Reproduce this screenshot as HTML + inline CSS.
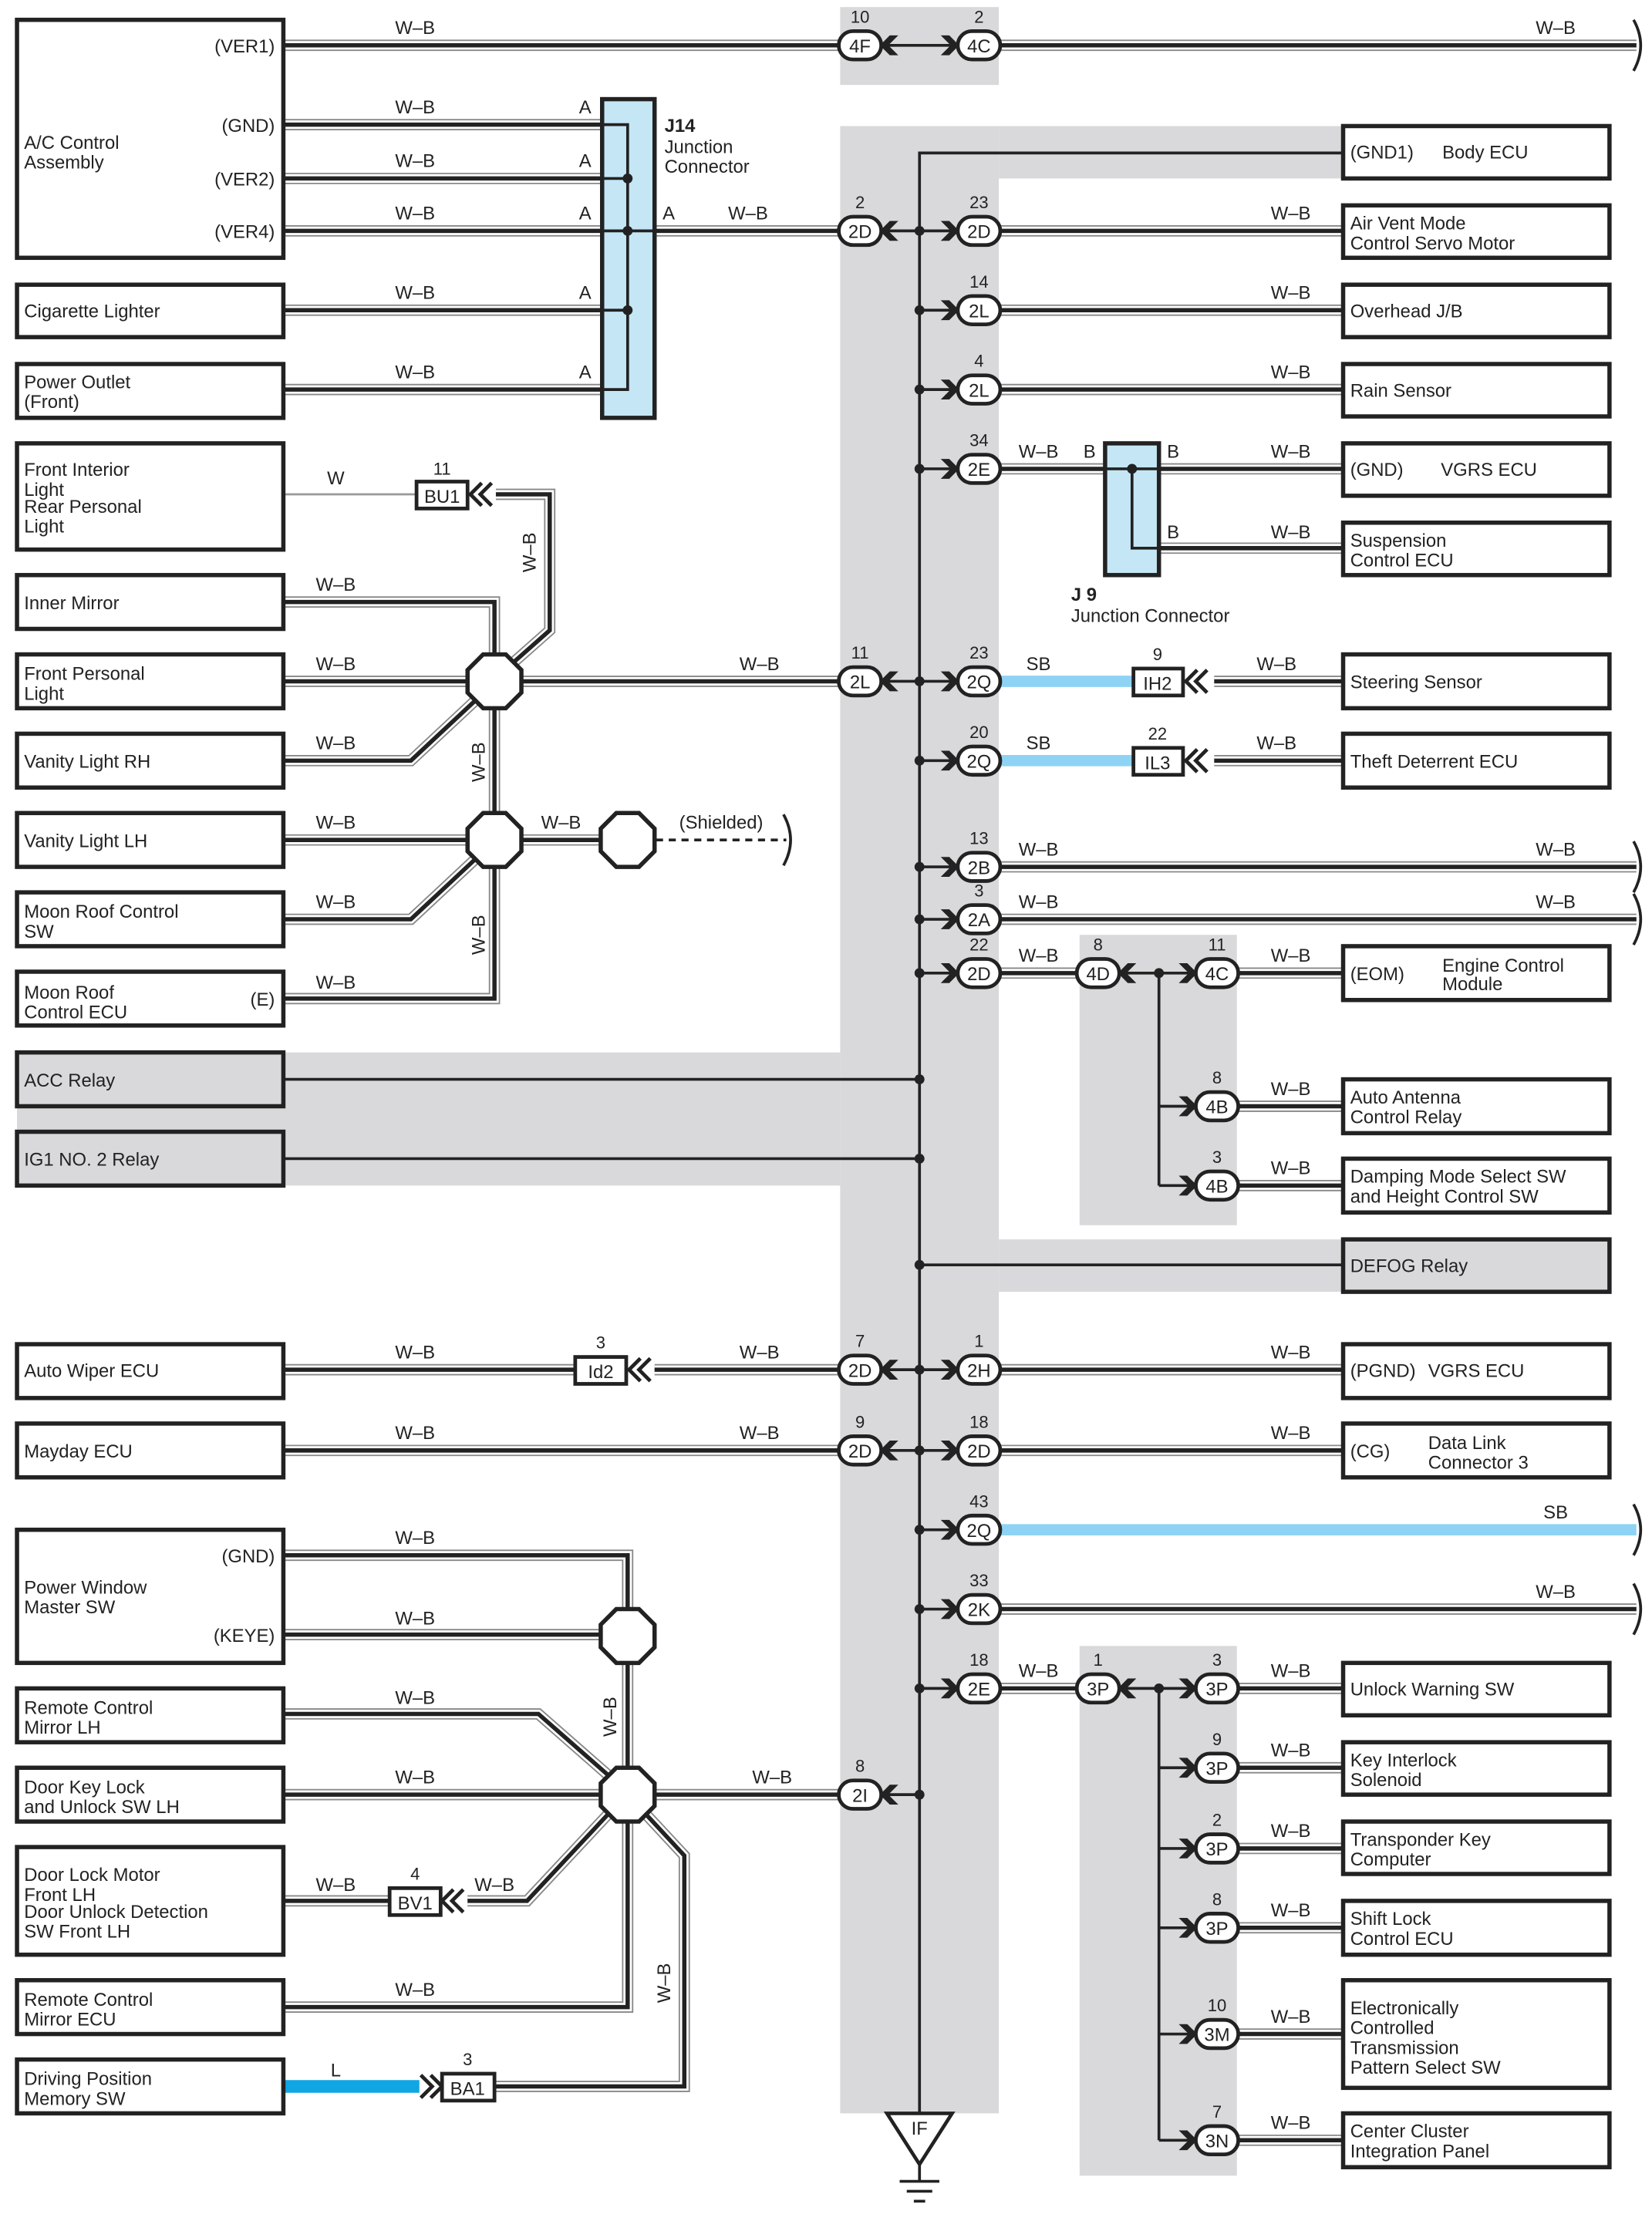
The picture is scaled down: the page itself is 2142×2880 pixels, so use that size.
<!DOCTYPE html>
<html><head><meta charset="utf-8"><style>
html,body{margin:0;padding:0;background:#fff}
svg{display:block}
text{font-family:"Liberation Sans Narrow","Liberation Sans",sans-serif;font-size:13px;fill:#222}
.n{font-size:12px;text-anchor:middle}
.m{text-anchor:middle}
.e{text-anchor:end}
.bx{fill:#fff;stroke:#222;stroke-width:3}
.gb{fill:#d9d9db;stroke:#222;stroke-width:3}
.pl{fill:#fff;stroke:#222;stroke-width:2.6}
.t{stroke:#222;stroke-width:2;fill:none}
</style></head><body>
<svg width="2142" height="2880" viewBox="0 0 1166 1568" preserveAspectRatio="none" xmlns="http://www.w3.org/2000/svg">
<g fill="#d9d9db">
<rect x="593" y="5" width="112" height="55"/>
<rect x="593" y="89" width="112" height="1403"/>
<rect x="705" y="89" width="243" height="37"/>
<rect x="12" y="743" width="581" height="94"/>
<rect x="705" y="875" width="243" height="37"/>
<rect x="762" y="660" width="111" height="205"/>
<rect x="762" y="1162" width="111" height="374"/>
</g>
<defs>
<g id="w" fill="none">
<path d="M200 32H592M705 32H1155"/>
<path d="M200 88H425M200 126H425M200 163H425M200 219H425M200 275H425M462 163H592"/>
<path d="M705 163H948M705 219H948M705 275H948M705 331H780M818 331H948M818 387H948"/>
<path d="M857 481H948M857 537H948M705 612H1155M705 649H1155M705 687H760M873 687H948M873 781H948M873 837H948"/>
<path d="M200 967H406M462 967H592M705 967H948M200 1024H592M705 1024H948M705 1136H1155"/>
<path d="M705 1192H760M873 1192H948M873 1248H948M873 1305H948M873 1361H948M873 1436H948M873 1511H948"/>
<path d="M350 349H388V445L362 468M200 425H349V461M200 481H329M369 481H592M200 537H290L335 495M349 501V573M200 593H329M369 593H423M200 649H290L335 607M200 705H349V613"/>
<path d="M200 1098H443V1135M200 1154H423M443 1175V1247M200 1210H380L429 1253M200 1267H423M463 1267H592M200 1342H274M330 1342H372L429 1281M200 1417H443V1287M350 1473H483V1310L457 1282"/>
</g>
</defs>
<use href="#w" stroke="#888" stroke-width="8"/>
<use href="#w" stroke="#fff" stroke-width="6"/>
<use href="#w" stroke="#222" stroke-width="3"/>
<path d="M705 481H800M705 537H800M705 1080H1155" stroke="#8fd3f4" stroke-width="8"/>
<path d="M200 1473H296" stroke="#10a6e3" stroke-width="9"/>
<path d="M200 349H294" stroke="#999" stroke-width="1.5"/>
<path d="M463 593H555" stroke="#222" stroke-width="2" stroke-dasharray="5,4"/>
<rect x="425" y="70" width="37" height="225" fill="#c5e6f5" stroke="#222" stroke-width="3"/>
<rect x="780" y="313" width="38" height="93" fill="#c5e6f5" stroke="#222" stroke-width="3"/>
<path class="t" d="M425 88H443V275H425M425 126H443M425 163H462M425 219H443"/>
<g fill="#222"><circle cx="443" cy="126" r="3.5"/><circle cx="443" cy="163" r="3.5"/><circle cx="443" cy="219" r="3.5"/><circle cx="799" cy="331" r="3.5"/></g>
<path class="t" d="M780 331H818M799 331V387H818"/>
<path class="t" d="M948 108H649V1492M649 893H948M200 762H649M200 818H649"/>
<path class="t" d="M621 32H677M621 163H677M649 219H677M649 275H677M649 331H677M621 481H677M649 537H677M649 612H677M649 649H677M649 687H677M621 967H677M621 1024H677M649 1080H677M649 1136H677M649 1192H677M621 1267H649"/>
<path class="t" d="M789 687H845M818 687V837M818 781H845M818 837H845M789 1192H845M818 1192V1511M818 1248H845M818 1305H845M818 1361H845M818 1436H845M818 1511H845"/>
<g fill="#222">
<circle cx="649" cy="163" r="3.5"/><circle cx="649" cy="219" r="3.5"/><circle cx="649" cy="275" r="3.5"/><circle cx="649" cy="331" r="3.5"/><circle cx="649" cy="481" r="3.5"/><circle cx="649" cy="537" r="3.5"/><circle cx="649" cy="612" r="3.5"/><circle cx="649" cy="649" r="3.5"/><circle cx="649" cy="687" r="3.5"/><circle cx="649" cy="762" r="3.5"/><circle cx="649" cy="818" r="3.5"/><circle cx="649" cy="893" r="3.5"/><circle cx="649" cy="967" r="3.5"/><circle cx="649" cy="1024" r="3.5"/><circle cx="649" cy="1080" r="3.5"/><circle cx="649" cy="1136" r="3.5"/><circle cx="649" cy="1192" r="3.5"/><circle cx="649" cy="1267" r="3.5"/>
<circle cx="818" cy="687" r="3.5"/><circle cx="818" cy="1192" r="3.5"/>
</g>
<defs>
<path id="cr" d="M-13 -7H-7L0 0L-7 7H-13L-6 0Z" fill="#222"/>
<path id="cl" d="M13 -7H7L0 0L7 7H13L6 0Z" fill="#222"/>
<path id="dl" d="M6 -8L-2 0L6 8M13 -8L5 0L13 8" fill="none" stroke="#222" stroke-width="2.6"/>
<path id="dr" d="M-6 -8L2 0L-6 8M-13 -8L-5 0L-13 8" fill="none" stroke="#222" stroke-width="2.6"/>
</defs>
<g>
<use href="#cl" x="621" y="32"/><use href="#cr" x="677" y="32"/>
<use href="#cl" x="621" y="163"/><use href="#cr" x="677" y="163"/>
<use href="#cr" x="677" y="219"/><use href="#cr" x="677" y="275"/><use href="#cr" x="677" y="331"/>
<use href="#cl" x="621" y="481"/><use href="#cr" x="677" y="481"/><use href="#cr" x="677" y="537"/>
<use href="#cr" x="677" y="612"/><use href="#cr" x="677" y="649"/><use href="#cr" x="677" y="687"/>
<use href="#cl" x="789" y="687"/><use href="#cr" x="845" y="687"/><use href="#cr" x="845" y="781"/><use href="#cr" x="845" y="837"/>
<use href="#cl" x="621" y="967"/><use href="#cr" x="677" y="967"/><use href="#cl" x="621" y="1024"/><use href="#cr" x="677" y="1024"/>
<use href="#cr" x="677" y="1080"/><use href="#cr" x="677" y="1136"/><use href="#cr" x="677" y="1192"/>
<use href="#cl" x="789" y="1192"/><use href="#cr" x="845" y="1192"/><use href="#cr" x="845" y="1248"/><use href="#cr" x="845" y="1305"/><use href="#cr" x="845" y="1361"/><use href="#cr" x="845" y="1436"/><use href="#cr" x="845" y="1511"/>
<use href="#cl" x="621" y="1267"/>
<use href="#dl" x="334" y="349"/><use href="#dl" x="839" y="481"/><use href="#dl" x="839" y="537"/><use href="#dl" x="446" y="967"/><use href="#dl" x="314" y="1342"/><use href="#dr" x="310" y="1473"/>
</g>
<g class="pl">
<rect x="294" y="340" width="36" height="19"/><rect x="800" y="472" width="35" height="19"/><rect x="800" y="528" width="35" height="19"/>
<rect x="406" y="958" width="36" height="19"/><rect x="275" y="1333" width="36" height="19"/><rect x="312" y="1464" width="37" height="19"/>
</g>
<g><text x="312" y="355" class="m">BU1</text><text x="817" y="487" class="m">IH2</text><text x="817" y="543" class="m">IL3</text><text x="424" y="973" class="m">Id2</text><text x="293" y="1348" class="m">BV1</text><text x="330" y="1479" class="m">BA1</text></g>
<g><text x="312" y="335" class="n">11</text><text x="817" y="466" class="n">9</text><text x="817" y="522" class="n">22</text><text x="424" y="952" class="n">3</text><text x="293" y="1327" class="n">4</text><text x="330" y="1458" class="n">3</text></g>
<g fill="#fff" stroke="#222" stroke-width="3">
<polygon points="341,462 357,462 368,473 368,489 357,500 341,500 330,489 330,473"/>
<polygon points="341,574 357,574 368,585 368,601 357,612 341,612 330,601 330,585"/>
<polygon points="435,574 451,574 462,585 462,601 451,612 435,612 424,601 424,585"/>
<polygon points="435,1136 451,1136 462,1147 462,1163 451,1174 435,1174 424,1163 424,1147"/>
<polygon points="435,1248 451,1248 462,1259 462,1275 451,1286 435,1286 424,1275 424,1259"/>
</g>
<g>
<rect class="pl" x="592" y="22" width="30" height="20" rx="10"/><text class="m" x="607" y="37">4F</text><text class="n" x="607" y="16">10</text>
<rect class="pl" x="676" y="22" width="30" height="20" rx="10"/><text class="m" x="691" y="37">4C</text><text class="n" x="691" y="16">2</text>
<rect class="pl" x="592" y="153" width="30" height="20" rx="10"/><text class="m" x="607" y="168">2D</text><text class="n" x="607" y="147">2</text>
<rect class="pl" x="676" y="153" width="30" height="20" rx="10"/><text class="m" x="691" y="168">2D</text><text class="n" x="691" y="147">23</text>
<rect class="pl" x="676" y="209" width="30" height="20" rx="10"/><text class="m" x="691" y="224">2L</text><text class="n" x="691" y="203">14</text>
<rect class="pl" x="676" y="265" width="30" height="20" rx="10"/><text class="m" x="691" y="280">2L</text><text class="n" x="691" y="259">4</text>
<rect class="pl" x="676" y="321" width="30" height="20" rx="10"/><text class="m" x="691" y="336">2E</text><text class="n" x="691" y="315">34</text>
<rect class="pl" x="592" y="471" width="30" height="20" rx="10"/><text class="m" x="607" y="486">2L</text><text class="n" x="607" y="465">11</text>
<rect class="pl" x="676" y="471" width="30" height="20" rx="10"/><text class="m" x="691" y="486">2Q</text><text class="n" x="691" y="465">23</text>
<rect class="pl" x="676" y="527" width="30" height="20" rx="10"/><text class="m" x="691" y="542">2Q</text><text class="n" x="691" y="521">20</text>
<rect class="pl" x="676" y="602" width="30" height="20" rx="10"/><text class="m" x="691" y="617">2B</text><text class="n" x="691" y="596">13</text>
<rect class="pl" x="676" y="639" width="30" height="20" rx="10"/><text class="m" x="691" y="654">2A</text><text class="n" x="691" y="633">3</text>
<rect class="pl" x="676" y="677" width="30" height="20" rx="10"/><text class="m" x="691" y="692">2D</text><text class="n" x="691" y="671">22</text>
<rect class="pl" x="760" y="677" width="30" height="20" rx="10"/><text class="m" x="775" y="692">4D</text><text class="n" x="775" y="671">8</text>
<rect class="pl" x="844" y="677" width="30" height="20" rx="10"/><text class="m" x="859" y="692">4C</text><text class="n" x="859" y="671">11</text>
<rect class="pl" x="844" y="771" width="30" height="20" rx="10"/><text class="m" x="859" y="786">4B</text><text class="n" x="859" y="765">8</text>
<rect class="pl" x="844" y="827" width="30" height="20" rx="10"/><text class="m" x="859" y="842">4B</text><text class="n" x="859" y="821">3</text>
<rect class="pl" x="592" y="957" width="30" height="20" rx="10"/><text class="m" x="607" y="972">2D</text><text class="n" x="607" y="951">7</text>
<rect class="pl" x="676" y="957" width="30" height="20" rx="10"/><text class="m" x="691" y="972">2H</text><text class="n" x="691" y="951">1</text>
<rect class="pl" x="592" y="1014" width="30" height="20" rx="10"/><text class="m" x="607" y="1029">2D</text><text class="n" x="607" y="1008">9</text>
<rect class="pl" x="676" y="1014" width="30" height="20" rx="10"/><text class="m" x="691" y="1029">2D</text><text class="n" x="691" y="1008">18</text>
<rect class="pl" x="676" y="1070" width="30" height="20" rx="10"/><text class="m" x="691" y="1085">2Q</text><text class="n" x="691" y="1064">43</text>
<rect class="pl" x="676" y="1126" width="30" height="20" rx="10"/><text class="m" x="691" y="1141">2K</text><text class="n" x="691" y="1120">33</text>
<rect class="pl" x="676" y="1182" width="30" height="20" rx="10"/><text class="m" x="691" y="1197">2E</text><text class="n" x="691" y="1176">18</text>
<rect class="pl" x="760" y="1182" width="30" height="20" rx="10"/><text class="m" x="775" y="1197">3P</text><text class="n" x="775" y="1176">1</text>
<rect class="pl" x="844" y="1182" width="30" height="20" rx="10"/><text class="m" x="859" y="1197">3P</text><text class="n" x="859" y="1176">3</text>
<rect class="pl" x="844" y="1238" width="30" height="20" rx="10"/><text class="m" x="859" y="1253">3P</text><text class="n" x="859" y="1232">9</text>
<rect class="pl" x="844" y="1295" width="30" height="20" rx="10"/><text class="m" x="859" y="1310">3P</text><text class="n" x="859" y="1289">2</text>
<rect class="pl" x="844" y="1351" width="30" height="20" rx="10"/><text class="m" x="859" y="1366">3P</text><text class="n" x="859" y="1345">8</text>
<rect class="pl" x="844" y="1426" width="30" height="20" rx="10"/><text class="m" x="859" y="1441">3M</text><text class="n" x="859" y="1420">10</text>
<rect class="pl" x="844" y="1501" width="30" height="20" rx="10"/><text class="m" x="859" y="1516">3N</text><text class="n" x="859" y="1495">7</text>
<rect class="pl" x="592" y="1257" width="30" height="20" rx="10"/><text class="m" x="607" y="1272">2I</text><text class="n" x="607" y="1251">8</text>
</g>
<path class="t" d="M1153 14Q1163 32 1153 50M1153 594Q1163 612 1153 630M1153 631Q1163 649 1153 667M1153 1062Q1163 1080 1153 1098M1153 1118Q1163 1136 1153 1154M553 575Q563 593 553 611"/>
<polygon points="626,1492 672,1492 649,1528" fill="#fff" stroke="#222" stroke-width="2.5"/>
<text class="m" x="649" y="1507">IF</text>
<path class="t" d="M649 1528V1540M635 1540H663M640 1547H658M645 1554H653"/>
<rect class="bx" x="12" y="14" width="188" height="168"/>
<rect class="bx" x="12" y="201" width="188" height="37"/>
<rect class="bx" x="12" y="257" width="188" height="38"/>
<rect class="bx" x="12" y="313" width="188" height="75"/>
<rect class="bx" x="12" y="406" width="188" height="38"/>
<rect class="bx" x="12" y="462" width="188" height="38"/>
<rect class="bx" x="12" y="518" width="188" height="38"/>
<rect class="bx" x="12" y="574" width="188" height="38"/>
<rect class="bx" x="12" y="630" width="188" height="38"/>
<rect class="bx" x="12" y="686" width="188" height="38"/>
<rect class="gb" x="12" y="743" width="188" height="38"/>
<rect class="gb" x="12" y="799" width="188" height="38"/>
<rect class="bx" x="12" y="949" width="188" height="38"/>
<rect class="bx" x="12" y="1005" width="188" height="38"/>
<rect class="bx" x="12" y="1080" width="188" height="94"/>
<rect class="bx" x="12" y="1192" width="188" height="38"/>
<rect class="bx" x="12" y="1248" width="188" height="38"/>
<rect class="bx" x="12" y="1304" width="188" height="76"/>
<rect class="bx" x="12" y="1398" width="188" height="38"/>
<rect class="bx" x="12" y="1454" width="188" height="38"/>
<rect class="bx" x="948" y="89" width="188" height="37"/>
<rect class="bx" x="948" y="145" width="188" height="37"/>
<rect class="bx" x="948" y="201" width="188" height="37"/>
<rect class="bx" x="948" y="257" width="188" height="37"/>
<rect class="bx" x="948" y="313" width="188" height="37"/>
<rect class="bx" x="948" y="369" width="188" height="37"/>
<rect class="bx" x="948" y="462" width="188" height="38"/>
<rect class="bx" x="948" y="518" width="188" height="38"/>
<rect class="bx" x="948" y="668" width="188" height="38"/>
<rect class="bx" x="948" y="762" width="188" height="38"/>
<rect class="bx" x="948" y="818" width="188" height="38"/>
<rect class="gb" x="948" y="875" width="188" height="37"/>
<rect class="bx" x="948" y="949" width="188" height="38"/>
<rect class="bx" x="948" y="1005" width="188" height="38"/>
<rect class="bx" x="948" y="1174" width="188" height="37"/>
<rect class="bx" x="948" y="1230" width="188" height="37"/>
<rect class="bx" x="948" y="1286" width="188" height="37"/>
<rect class="bx" x="948" y="1342" width="188" height="38"/>
<rect class="bx" x="948" y="1398" width="188" height="76"/>
<rect class="bx" x="948" y="1492" width="188" height="38"/>
<text class="e" x="194" y="37">(VER1)</text><text class="e" x="194" y="93">(GND)</text><text class="e" x="194" y="131">(VER2)</text><text class="e" x="194" y="168">(VER4)</text>
<text x="17" y="105">A/C Control</text><text x="17" y="119">Assembly</text>
<text x="17" y="224">Cigarette Lighter</text>
<text x="17" y="274">Power Outlet</text><text x="17" y="288">(Front)</text>
<text x="17" y="336">Front Interior</text><text x="17" y="350">Light</text><text x="17" y="362">Rear Personal</text><text x="17" y="376">Light</text>
<text x="17" y="430">Inner Mirror</text>
<text x="17" y="480">Front Personal</text><text x="17" y="494">Light</text>
<text x="17" y="542">Vanity Light RH</text>
<text x="17" y="598">Vanity Light LH</text>
<text x="17" y="648">Moon Roof Control</text><text x="17" y="662">SW</text>
<text x="17" y="705">Moon Roof</text><text x="17" y="719">Control ECU</text><text class="e" x="194" y="710">(E)</text>
<text x="17" y="767">ACC Relay</text>
<text x="17" y="823">IG1 NO. 2 Relay</text>
<text x="17" y="972">Auto Wiper ECU</text>
<text x="17" y="1029">Mayday ECU</text>
<text class="e" x="194" y="1103">(GND)</text><text class="e" x="194" y="1159">(KEYE)</text>
<text x="17" y="1125">Power Window</text><text x="17" y="1139">Master SW</text>
<text x="17" y="1210">Remote Control</text><text x="17" y="1224">Mirror LH</text>
<text x="17" y="1266">Door Key Lock</text><text x="17" y="1280">and Unlock SW LH</text>
<text x="17" y="1328">Door Lock Motor</text><text x="17" y="1342">Front LH</text><text x="17" y="1354">Door Unlock Detection</text><text x="17" y="1368">SW Front LH</text>
<text x="17" y="1416">Remote Control</text><text x="17" y="1430">Mirror ECU</text>
<text x="17" y="1472">Driving Position</text><text x="17" y="1486">Memory SW</text>
<text x="953" y="112">(GND1)</text><text x="1018" y="112">Body ECU</text>
<text x="953" y="162">Air Vent Mode</text><text x="953" y="176">Control Servo Motor</text>
<text x="953" y="224">Overhead J/B</text>
<text x="953" y="280">Rain Sensor</text>
<text x="953" y="336">(GND)</text><text x="1017" y="336">VGRS ECU</text>
<text x="953" y="386">Suspension</text><text x="953" y="400">Control ECU</text>
<text x="953" y="486">Steering Sensor</text>
<text x="953" y="542">Theft Deterrent ECU</text>
<text x="953" y="692">(EOM)</text><text x="1018" y="686">Engine Control</text><text x="1018" y="699">Module</text>
<text x="953" y="779">Auto Antenna</text><text x="953" y="793">Control Relay</text>
<text x="953" y="835">Damping Mode Select SW</text><text x="953" y="849">and Height Control SW</text>
<text x="953" y="898">DEFOG Relay</text>
<text x="953" y="972">(PGND)</text><text x="1008" y="972">VGRS ECU</text>
<text x="953" y="1029">(CG)</text><text x="1008" y="1023">Data Link</text><text x="1008" y="1037">Connector 3</text>
<text x="953" y="1197">Unlock Warning SW</text>
<text x="953" y="1247">Key Interlock</text><text x="953" y="1261">Solenoid</text>
<text x="953" y="1303">Transponder Key</text><text x="953" y="1317">Computer</text>
<text x="953" y="1359">Shift Lock</text><text x="953" y="1373">Control ECU</text>
<text x="953" y="1422">Electronically</text><text x="953" y="1436">Controlled</text><text x="953" y="1450">Transmission</text><text x="953" y="1464">Pattern Select SW</text>
<text x="953" y="1509">Center Cluster</text><text x="953" y="1523">Integration Panel</text>
<text x="469" y="93" font-weight="bold">J14</text><text x="469" y="108">Junction</text><text x="469" y="122">Connector</text>
<text x="756" y="424" font-weight="bold">J 9</text><text x="756" y="439">Junction Connector</text>
<g>
<text class="m" x="293" y="24">W–B</text><text class="m" x="1098" y="24">W–B</text>
<text class="m" x="293" y="80">W–B</text><text class="m" x="293" y="118">W–B</text><text class="m" x="293" y="155">W–B</text><text class="m" x="293" y="211">W–B</text><text class="m" x="293" y="267">W–B</text>
<text class="m" x="413" y="80">A</text><text class="m" x="413" y="118">A</text><text class="m" x="413" y="155">A</text><text class="m" x="413" y="211">A</text><text class="m" x="413" y="267">A</text>
<text class="m" x="472" y="155">A</text><text class="m" x="528" y="155">W–B</text>
<text class="m" x="911" y="155">W–B</text><text class="m" x="911" y="211">W–B</text><text class="m" x="911" y="267">W–B</text>
<text class="m" x="733" y="323">W–B</text><text class="m" x="769" y="323">B</text><text class="m" x="828" y="323">B</text><text class="m" x="911" y="323">W–B</text>
<text class="m" x="828" y="380">B</text><text class="m" x="911" y="380">W–B</text>
<text class="m" x="237" y="342">W</text>
<text class="m" x="237" y="417">W–B</text><text class="m" x="237" y="473">W–B</text><text class="m" x="237" y="529">W–B</text><text class="m" x="237" y="585">W–B</text><text class="m" x="237" y="641">W–B</text><text class="m" x="237" y="698">W–B</text>
<text class="m" x="536" y="473">W–B</text><text class="m" x="396" y="585">W–B</text><text class="m" x="509" y="585">(Shielded)</text>
<text class="m" x="733" y="473">SB</text><text class="m" x="901" y="473">W–B</text><text class="m" x="733" y="529">SB</text><text class="m" x="901" y="529">W–B</text>
<text class="m" x="733" y="604">W–B</text><text class="m" x="1098" y="604">W–B</text><text class="m" x="733" y="641">W–B</text><text class="m" x="1098" y="641">W–B</text>
<text class="m" x="733" y="679">W–B</text><text class="m" x="911" y="679">W–B</text><text class="m" x="911" y="773">W–B</text><text class="m" x="911" y="829">W–B</text>
<text class="m" x="293" y="959">W–B</text><text class="m" x="536" y="959">W–B</text><text class="m" x="911" y="959">W–B</text>
<text class="m" x="293" y="1016">W–B</text><text class="m" x="536" y="1016">W–B</text><text class="m" x="911" y="1016">W–B</text>
<text class="m" x="1098" y="1072">SB</text><text class="m" x="1098" y="1128">W–B</text>
<text class="m" x="733" y="1184">W–B</text><text class="m" x="911" y="1184">W–B</text><text class="m" x="911" y="1240">W–B</text><text class="m" x="911" y="1297">W–B</text><text class="m" x="911" y="1353">W–B</text><text class="m" x="911" y="1428">W–B</text><text class="m" x="911" y="1503">W–B</text>
<text class="m" x="293" y="1090">W–B</text><text class="m" x="293" y="1147">W–B</text><text class="m" x="293" y="1203">W–B</text><text class="m" x="293" y="1259">W–B</text><text class="m" x="545" y="1259">W–B</text>
<text class="m" x="237" y="1335">W–B</text><text class="m" x="349" y="1335">W–B</text><text class="m" x="293" y="1409">W–B</text><text class="m" x="237" y="1466">L</text>
</g>
<g>
<text class="m" transform="translate(378,390) rotate(-90)">W–B</text>
<text class="m" transform="translate(342,538) rotate(-90)">W–B</text>
<text class="m" transform="translate(342,660) rotate(-90)">W–B</text>
<text class="m" transform="translate(435,1212) rotate(-90)">W–B</text>
<text class="m" transform="translate(473,1400) rotate(-90)">W–B</text>
</g>
</svg>
</body></html>
